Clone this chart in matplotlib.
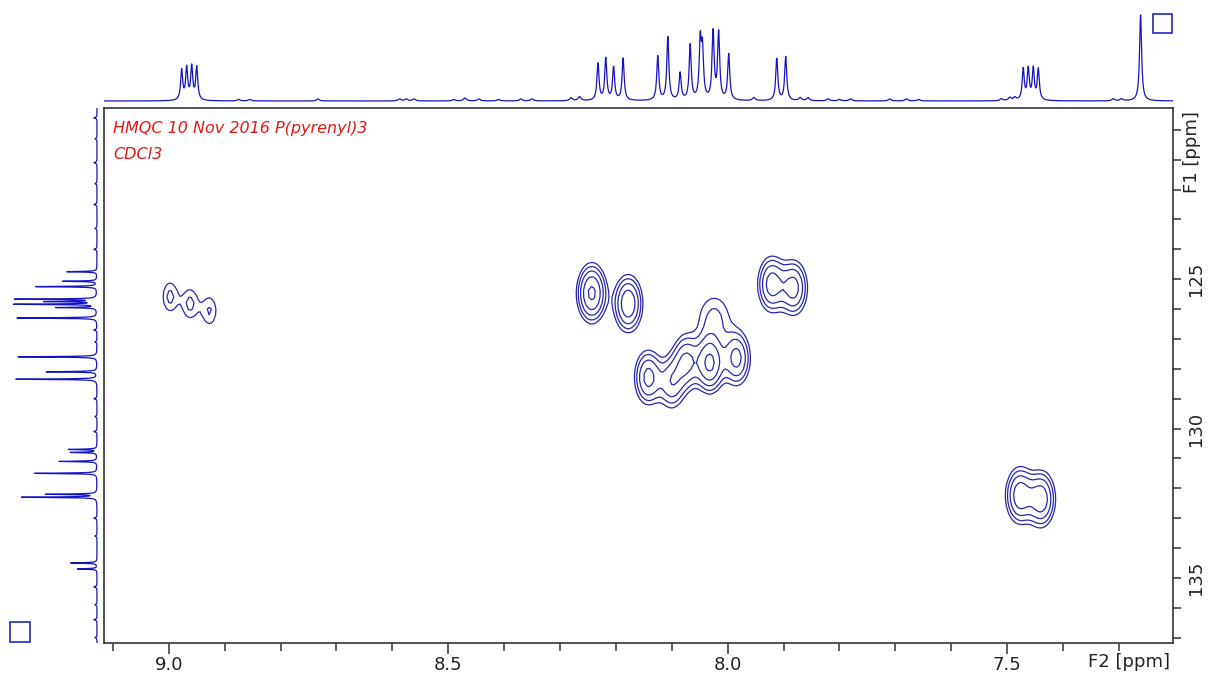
import numpy as np
import matplotlib
matplotlib.use("Agg")
import matplotlib.pyplot as plt
from matplotlib.patches import Rectangle
from matplotlib.transforms import IdentityTransform
from matplotlib.ticker import MultipleLocator, FixedLocator

# ---------------- data ----------------
# 1H projection (F2): peak positions (ppm) and heights (px units)
h_ppm = [8.977, 8.968, 8.959, 8.950, 8.232, 8.218, 8.204, 8.187, 8.125, 8.107,
         8.085, 8.067, 8.049, 8.045, 8.026, 8.016, 7.998, 7.912, 7.896,
         7.471, 7.462, 7.453, 7.444, 7.261]
h_int = [30, 32, 33, 33, 37, 42, 33, 42, 44, 63, 27, 55, 57, 48, 68, 67, 46, 42, 44,
         31, 31, 31, 31, 86]
# small 1H baseline bumps
h_minor_ppm = [8.875, 8.855, 8.733, 8.587, 8.575, 8.561, 8.49, 8.47, 8.445, 8.41,
               8.37, 8.35, 8.28, 8.265, 7.953, 7.87, 7.856, 7.82, 7.80, 7.78,
               7.71, 7.68, 7.658, 7.51, 7.495, 7.486, 7.31, 7.295]
h_minor_int = [1.5, 1.5, 2, 2, 2, 2, 1.5, 3, 2, 1.5, 2, 2, 3, 4, 3, 3, 3, 2, 1.5, 2,
               2, 2, 1.5, 2, 3, 3, 2, 2]

# 13C projection (F1): peak positions (ppm) and heights (px units)
c_ppm = [124.75, 125.07, 125.25, 125.67, 125.75, 125.84, 125.95, 126.30, 127.60,
         128.10, 128.35, 130.70, 130.80, 131.10, 131.50, 132.20, 132.30, 134.50, 134.70]
c_int = [30, 34, 61, 81, 50, 84, 40, 82, 81, 52, 81, 29, 27, 39, 64, 52, 77, 27, 20]
# small 13C baseline spikes
c_minor_ppm = [119.6, 120.3, 121.1, 121.8, 122.5, 123.3, 124.0, 126.7, 127.1, 129.0,
               129.6, 130.1, 133.0, 133.6, 135.3, 135.9, 136.4, 137.0]
c_minor_int = [3, 2, 3, 2, 3, 2, 3, 3, 2, 3, 2, 3, 3, 2, 3, 2, 3, 2]

# HMQC cross peaks: F2 (1H ppm), F1 (13C ppm), relative amplitude
x_f2 = [8.243, 8.178, 7.921, 7.882, 8.142, 8.100, 8.074, 8.032, 7.984, 8.024,
        8.998, 8.962, 8.927, 7.477, 7.439]
y_f1 = [125.47, 125.82, 125.17, 125.29, 128.29, 128.47, 127.76, 127.82, 127.65, 126.30,
        125.59, 125.82, 126.06, 132.24, 132.36]
amp = [1.0, 0.85, 0.75, 0.72, 0.7, 0.55, 0.65, 1.0, 0.7, 0.3,
       0.3, 0.3, 0.28, 0.8, 0.8]

# axis ranges / ticks
f2_range = (9.116, 7.203)
f1_range = (137.18, 119.27)
f2_major = [9.0, 8.5, 8.0, 7.5]
f1_major = [125, 130, 135]

title_lines = ["HMQC 10 Nov 2016 P(pyrenyl)3", "CDCl3"]

# ---------------- drawing ----------------
W, H = 1208, 678
fig = plt.figure(figsize=(W / 100, H / 100), dpi=100)
blue = '#1414c4'
cblue = '#2626b0'

L, R, T, B = 104, 1173, 108, 643
ax = fig.add_axes([L / W, (H - B) / H, (R - L) / W, (B - T) / H])
ax.set_xlim(*f2_range)
ax.set_ylim(*f1_range)

# contour field
gx = np.arange(7.2, 9.12, 0.004)
gy = np.arange(119.0, 137.4, 0.2)
X, Y = np.meshgrid(gx, gy)
Z = np.zeros_like(X)
for xc, yc, a in zip(x_f2, y_f1, amp):
    sx = 0.012 if a < 0.35 and xc > 8.5 else (0.024 if a < 0.35 else 0.015)
    sy = 0.45 if xc > 8.5 else (0.65 if a < 0.35 else 0.55)
    Z += a * np.exp(-0.5 * (((X - xc) / sx) ** 2 + ((Y - yc) / sy) ** 2))
levels = [0.18 * 1.5 ** k for k in range(5)]
ax.contour(X, Y, Z, levels=levels, colors=cblue, linewidths=0.9)

for s in ax.spines.values():
    s.set_color('#333333')
    s.set_linewidth(1.2)

ax.xaxis.set_major_locator(FixedLocator(f2_major))
ax.xaxis.set_minor_locator(MultipleLocator(0.1))
ax.set_xticklabels([f"{v:.1f}" for v in f2_major])
ax.tick_params(axis='x', which='major', direction='out', length=8, width=1.1,
               color='#333333', labelsize=13, labelcolor='#222222', pad=1.5)
ax.tick_params(axis='x', which='minor', direction='out', length=6, width=1.1,
               color='#333333')

ax.yaxis.tick_right()
ax.yaxis.set_major_locator(FixedLocator(f1_major))
ax.yaxis.set_minor_locator(MultipleLocator(1))
ax.set_yticklabels([str(v) for v in f1_major], rotation=90, va='center')
ax.tick_params(axis='y', which='major', direction='out', length=6, width=1.1,
               color='#333333', labelsize=13, labelcolor='#222222', pad=4)
ax.tick_params(axis='y', which='minor', direction='out', length=6, width=1.1,
               color='#333333')

fig.text(1129 / W, 1 - 662 / H, "F2 [ppm]", ha='center', va='center',
         fontsize=13, color='#222222')
fig.text(1192 / W, 1 - 152 / H, "F1 [ppm]", ha='center', va='center',
         fontsize=13, color='#222222', rotation=90)

fig.text(113 / W, 1 - 133 / H, title_lines[0], ha='left', va='baseline',
         fontsize=11.5, color='#e01818', style='italic')
fig.text(113 / W, 1 - 159 / H, title_lines[1], ha='left', va='baseline',
         fontsize=11.5, color='#e01818', style='italic')

# top 1H projection
axt = fig.add_axes([L / W, (H - 106) / H, (R - L) / W, 106 / H])
axt.set_xlim(*f2_range)
axt.set_ylim(-5, 101)
axt.axis('off')
hx = np.arange(7.203, 9.116, 0.0004)
hy = np.zeros_like(hx)
for p, hgt in zip(h_ppm, h_int):
    g = 0.0022
    hy += hgt / (1 + ((hx - p) / g) ** 2)
for p, hgt in zip(h_minor_ppm, h_minor_int):
    hy += hgt / (1 + ((hx - p) / 0.003) ** 2)
axt.plot(hx, hy, color=blue, lw=0.9)

# left 13C projection
axl = fig.add_axes([0, (H - B) / H, L / W, (B - T) / H])
axl.set_ylim(*f1_range)
axl.set_xlim(97, -7)
axl.axis('off')
cy = np.arange(119.27, 137.18, 0.004)
cx = np.zeros_like(cy)
for p, hgt in zip(c_ppm, c_int):
    cx += hgt / (1 + ((cy - p) / 0.012) ** 2)
for p, hgt in zip(c_minor_ppm, c_minor_int):
    cx += hgt / (1 + ((cy - p) / 0.02) ** 2)
axl.plot(cx, cy, color=blue, lw=0.9)

# the two small squares
fig.add_artist(Rectangle((1153, H - 33), 19, 19, transform=IdentityTransform(),
                         fill=False, ec=blue, lw=1.1))
fig.add_artist(Rectangle((10, H - 642), 20, 20, transform=IdentityTransform(),
                         fill=False, ec=blue, lw=1.1))

fig.savefig("out.png", dpi=100)
